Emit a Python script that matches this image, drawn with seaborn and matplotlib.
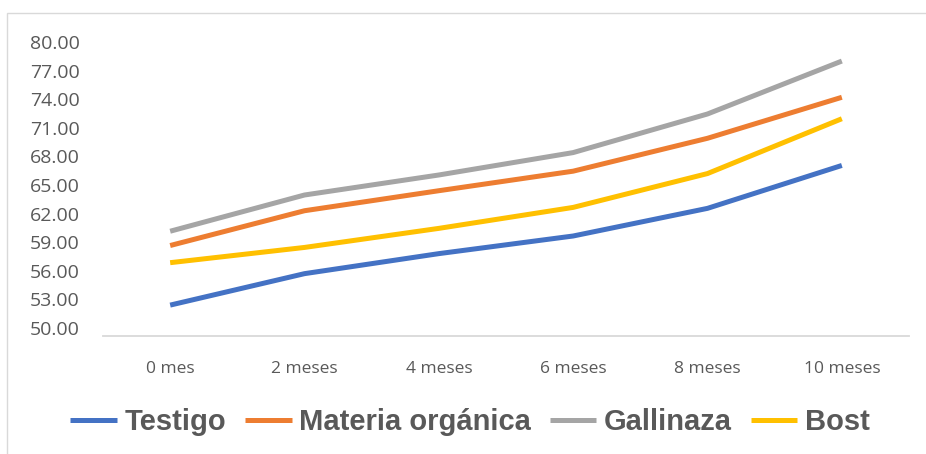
import numpy as np
import pandas as pd
import matplotlib
matplotlib.use("Agg")
import matplotlib.pyplot as plt
from matplotlib.patches import Rectangle
import seaborn as sns

# Measured values per treatment over time
meses = ["0 mes", "2 meses", "4 meses", "6 meses", "8 meses", "10 meses"]
testigo = [52.4, 55.7, 57.8, 59.65, 62.55, 67.05]
materia_organica = [58.65, 62.3, 64.4, 66.45, 69.9, 74.2]
gallinaza = [60.15, 63.95, 66.05, 68.4, 72.45, 78.0]
bost = [56.85, 58.45, 60.45, 62.65, 66.2, 71.95]

series_names = ["Testigo", "Materia orgánica", "Gallinaza", "Bost"]
colors = ["#4472C4", "#ED7D31", "#A5A5A5", "#FFC000"]
y_ticks = [50, 53, 56, 59, 62, 65, 68, 71, 74, 77, 80]

df = pd.DataFrame({
    "mes": meses * 4,
    "valor": testigo + materia_organica + gallinaza + bost,
    "serie": np.repeat(series_names, len(meses)),
})

sns.set_theme(style="white")
plt.rcParams["font.family"] = ["Open Sans", "DejaVu Sans"]

W, H = 926, 454
fig = plt.figure(figsize=(W / 100, H / 100), dpi=100)
fig.patch.set_facecolor("white")

# chart-area frame
fig.patches.append(Rectangle((7 / W, -0.1), 1.2, (H - 13) / H + 0.1,
                             transform=fig.transFigure, fill=False,
                             edgecolor="#D9D9D9", linewidth=1.0))

ax = fig.add_axes([103 / W, (H - 336) / H, 806 / W, 294 / H])
sns.lineplot(data=df, x="mes", y="valor", hue="serie", hue_order=series_names,
             palette=colors, linewidth=3.6, sort=False, ax=ax, legend=False,
             solid_capstyle="butt", solid_joinstyle="round")

ax.set_xlim(-0.5, len(meses) - 0.5)
ax.set_ylim(80 - 294 / 9.533, 80)
ax.set_yticks(y_ticks)
ax.set_yticklabels([f"{v:.2f}" for v in y_ticks])
ax.set_xlabel("")
ax.set_ylabel("")
for s in ["top", "right", "left"]:
    ax.spines[s].set_visible(False)
ax.spines["bottom"].set_color("#D9D9D9")
ax.spines["bottom"].set_linewidth(1.3)
ax.tick_params(axis="y", length=0, pad=17, labelsize=14, labelcolor="#595959")
ax.tick_params(axis="x", length=0, pad=18, labelsize=12.5, labelcolor="#595959")
ax.grid(False)

handles = [plt.Line2D([], [], color=c, linewidth=3.6, solid_capstyle="butt")
           for c in colors]
fig.legend(handles, series_names, loc="center", bbox_to_anchor=(470 / W, 32 / H),
           ncol=4, frameon=False, handlelength=1.6, handletextpad=0.25,
           columnspacing=0.65,
           prop={"family": ["Liberation Sans", "DejaVu Sans"], "weight": "bold", "size": 21},
           labelcolor="#595959")

fig.savefig("out.png", dpi=100, facecolor="white")
